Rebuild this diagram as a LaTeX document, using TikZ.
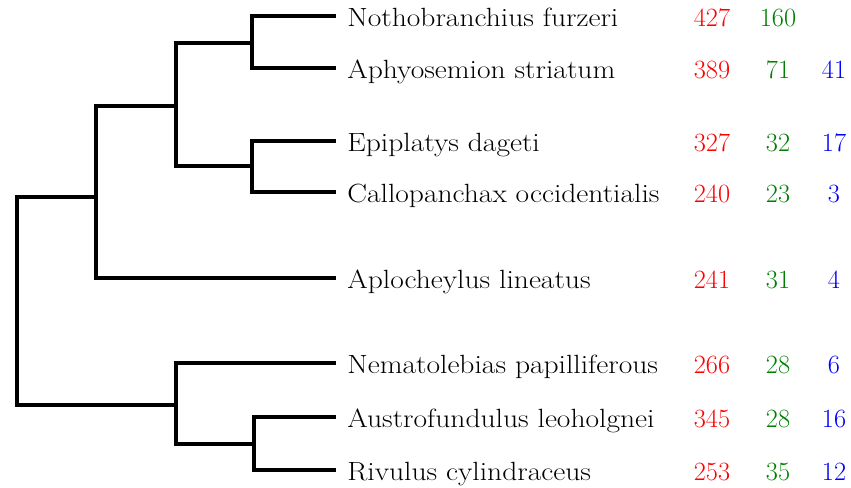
\documentclass[tikz,border=0pt]{standalone}
\usetikzlibrary{positioning}

\begin{document}
\begin{tikzpicture}[x=0.02cm,y=-0.02cm,
    branch/.style={line width=0.08cm},
    taxon/.style={anchor=base west,inner sep=0pt,font=\fontsize{15}{18}\selectfont},
    count/.style={anchor=base,inner sep=0pt,font=\fontsize{15}{18}\selectfont}]
  \useasboundingbox (0,0) rectangle (851,487);
  % tips, names and counts
  \foreach \y/\name/\r/\g/\b [count=\i] in {
      16/Nothobranchius furzeri/427/160/,
      68/Aphyosemion striatum/389/71/41,
      141/Epiplatys dageti/327/32/17,
      192/Callopanchax occidentialis/240/23/3,
      278/Aplocheylus lineatus/241/31/4,
      363/Nematolebias papilliferous/266/28/6,
      417/Austrofundulus leoholgnei/345/28/16,
      470/Rivulus cylindraceus/253/35/12} {
    \coordinate (t\i) at (336,\y);
    \node[taxon] (name\i) at (347,\y+10) {\scalebox{1.12}[1]{\name}};
    \node[count,red] (red\i) at (712,\y+10) {\r};
    \node[count,green!50!black] (green\i) at (778,\y+10) {\g};
    \node[count,blue] (blue\i) at (834,\y+10) {\b};
  }
  % inner nodes
  \coordinate (root) at (17,301);
  \coordinate (cladeA) at (96,197);
  \coordinate (cladeB) at (176,106);
  \coordinate (cladeC) at (252,43);
  \coordinate (cladeD) at (252,166);
  \coordinate (cladeE) at (176,405);
  \coordinate (cladeF) at (254,444);
  % tree
  \draw[branch] (root) |- (cladeA) (root) |- (cladeE)
    (cladeA) |- (cladeB) (cladeA) |- (t5)
    (cladeB) |- (cladeC) (cladeB) |- (cladeD)
    (cladeC) |- (t1) (cladeC) |- (t2)
    (cladeD) |- (t3) (cladeD) |- (t4)
    (cladeE) |- (t6) (cladeE) |- (cladeF)
    (cladeF) |- (t7) (cladeF) |- (t8);
\end{tikzpicture}
\end{document}
